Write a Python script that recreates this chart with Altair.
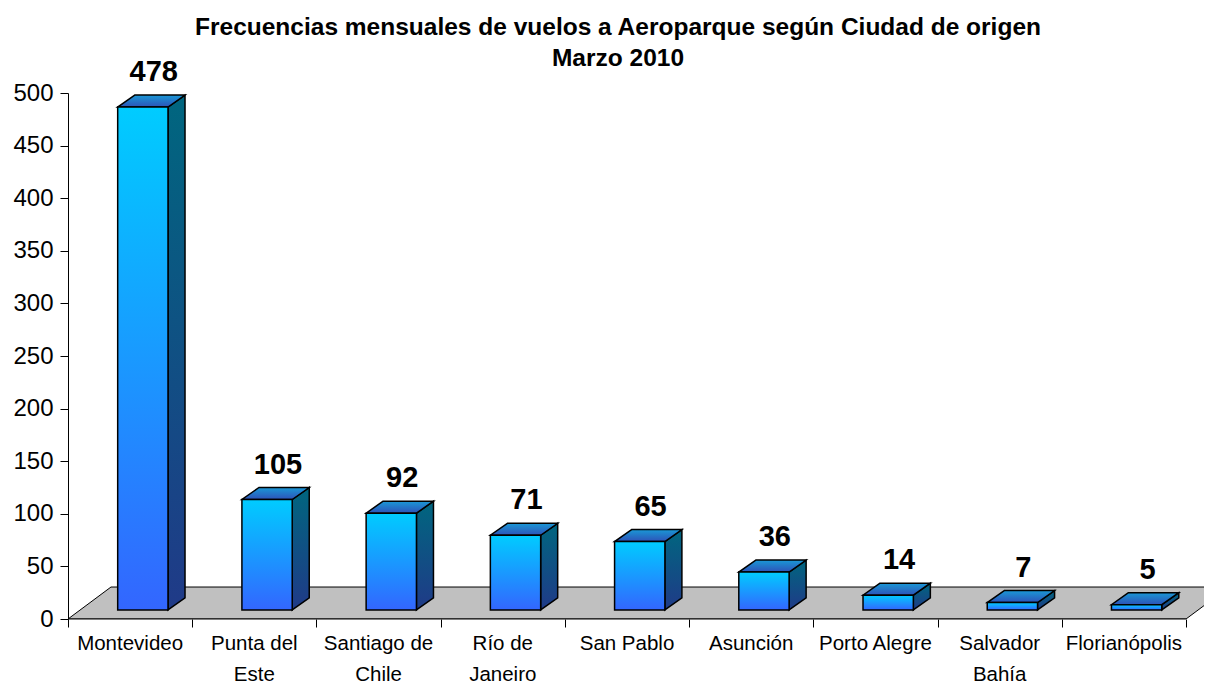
import altair as alt
import pandas as pd

# ---- data ----
ciudades = ["Montevideo", "Punta del Este", "Santiago de Chile", "Río de Janeiro",
            "San Pablo", "Asunción", "Porto Alegre", "Salvador Bahía", "Florianópolis"]
vuelos = [478, 105, 92, 71, 65, 36, 14, 7, 5]
etiquetas = ["Montevideo", "Punta del\nEste", "Santiago de\nChile", "Río de\nJaneiro",
             "San Pablo", "Asunción", "Porto Alegre", "Salvador\nBahía", "Florianópolis"]
ticks_y = list(range(0, 501, 50))
titulo = ["Frecuencias mensuales de vuelos a Aeroparque según Ciudad de origen", "Marzo 2010"]

# ---- 3D geometry (in data units) ----
n = len(ciudades)
W, H = 1136, 526
XMAX = W / (1118 / n)
FRONT_L, FRONT_R = 0.40, 0.805      # front face within each band
DX = 0.137                          # depth offset in x (categories)
DY = 11.4                           # depth offset in y (value units)
BASE = 8.6                          # front face bottom
FLOOR_DX, FLOOR_DY = 0.346, 30.4
LABEL_X = 0.69

bars = pd.DataFrame({"i": range(n), "ciudad": ciudades, "valor": vuelos, "etiqueta": etiquetas})
bars["x0"] = bars["i"] + FRONT_L
bars["x1"] = bars["i"] + FRONT_R
bars["yb"] = BASE
bars["yt"] = BASE + bars["valor"]
bars["xl"] = bars["i"] + LABEL_X
bars["ylab"] = bars["yt"] + DY
bars["xc"] = bars["i"] + 0.5

side_rows, top_rows = [], []
for _, r in bars.iterrows():
    side_rows.append({"ciudad": r.ciudad, "x": r.x1, "y": r.yb, "y2": r.yt})
    side_rows.append({"ciudad": r.ciudad, "x": r.x1 + DX, "y": r.yb + DY, "y2": r.yt + DY})
    top_rows.append({"ciudad": r.ciudad, "y": r.yt, "x": r.x0, "x2": r.x1})
    top_rows.append({"ciudad": r.ciudad, "y": r.yt + DY, "x": r.x0 + DX, "x2": r.x1 + DX})
side = pd.DataFrame(side_rows)
top = pd.DataFrame(top_rows)
floor = pd.DataFrame({"y": [0, FLOOR_DY], "x": [0, FLOOR_DX], "x2": [n, n + FLOOR_DX]})
axis_line = pd.DataFrame({"a": [0], "b": [n], "y": [0]})

FONT = "Liberation Sans"
xs = alt.Scale(domain=[0, XMAX], nice=False, zero=False)
ys = alt.Scale(domain=[0, 500], nice=False, zero=False)
xaxis = alt.Axis(values=list(range(n + 1)), labels=False, domain=False, grid=False,
                 tickSize=8, tickColor="black", tickWidth=1, title=None)
yaxis = alt.Axis(values=ticks_y, grid=False, tickSize=8, tickColor="black", domainColor="black",
                 labelFontSize=24, labelFont=FONT, labelColor="black", labelPadding=7, title=None)

def X(f):
    return alt.X(f, type="quantitative", scale=xs, axis=xaxis)

def Y(f):
    return alt.Y(f, type="quantitative", scale=ys, axis=yaxis)

grad_front = alt.Gradient(gradient="linear", x1=0, x2=0, y1=0, y2=1,
                          stops=[alt.GradientStop(color="#00CCFF", offset=0),
                                 alt.GradientStop(color="#3366FF", offset=1)])
grad_side = alt.Gradient(gradient="linear", x1=0, x2=0, y1=0, y2=1,
                         stops=[alt.GradientStop(color="#00667F", offset=0),
                                alt.GradientStop(color="#203A88", offset=1)])
grad_top = alt.Gradient(gradient="linear", x1=0, x2=0, y1=0, y2=1,
                        stops=[alt.GradientStop(color="#1A98D6", offset=0),
                               alt.GradientStop(color="#2D52B8", offset=1)])

floor_l = alt.Chart(floor).mark_area(orient="horizontal", color="#C0C0C0", stroke="black",
                                     strokeWidth=1, clip=True).encode(
    y=Y("y"), x=X("x"), x2="x2")

side_l = alt.Chart(side).mark_area(orient="vertical", fill=grad_side, stroke="black",
                                   strokeWidth=1.5).encode(
    x=X("x"), y=Y("y"), y2="y2", detail="ciudad:N")

top_l = alt.Chart(top).mark_area(orient="horizontal", fill=grad_top, stroke="black",
                                 strokeWidth=1.5).encode(
    y=Y("y"), x=X("x"), x2="x2", detail="ciudad:N")

front_l = alt.Chart(bars).mark_rect(fill=grad_front, stroke="black", strokeWidth=1.5).encode(
    x=X("x0"), x2="x1", y=Y("yb"), y2="yt")

vals_l = alt.Chart(bars).mark_text(baseline="alphabetic", dy=-14, fontSize=29, fontWeight="bold",
                                   font=FONT, color="black").encode(
    x=X("xl"), y=Y("ylab"), text="valor:Q")

cats_l = alt.Chart(bars).mark_text(baseline="top", lineBreak="\n", fontSize=20.5, lineHeight=31,
                                   font=FONT, color="black").encode(
    x=X("xc"), y=alt.value(H + 15), text="etiqueta:N")

xline_l = alt.Chart(axis_line).mark_rule(color="black", strokeWidth=1).encode(
    x=X("a"), x2="b", y=Y("y"))

chart = alt.layer(floor_l, side_l, top_l, front_l, vals_l, cats_l, xline_l).properties(
    width=W, height=H,
    autosize=alt.AutoSizeParams(type="none"),
    padding={"left": 60, "top": 85, "right": 0, "bottom": 65},
    background="white",
    title=alt.TitleParams(text=titulo, fontSize=24.5, fontWeight="bold", font=FONT, color="black",
                          anchor="middle", lineHeight=31, offset=22, dx=-18, dy=35),
).configure_view(stroke=None)

chart.save("out.html", embed_options={"renderer": "svg", "actions": False})
